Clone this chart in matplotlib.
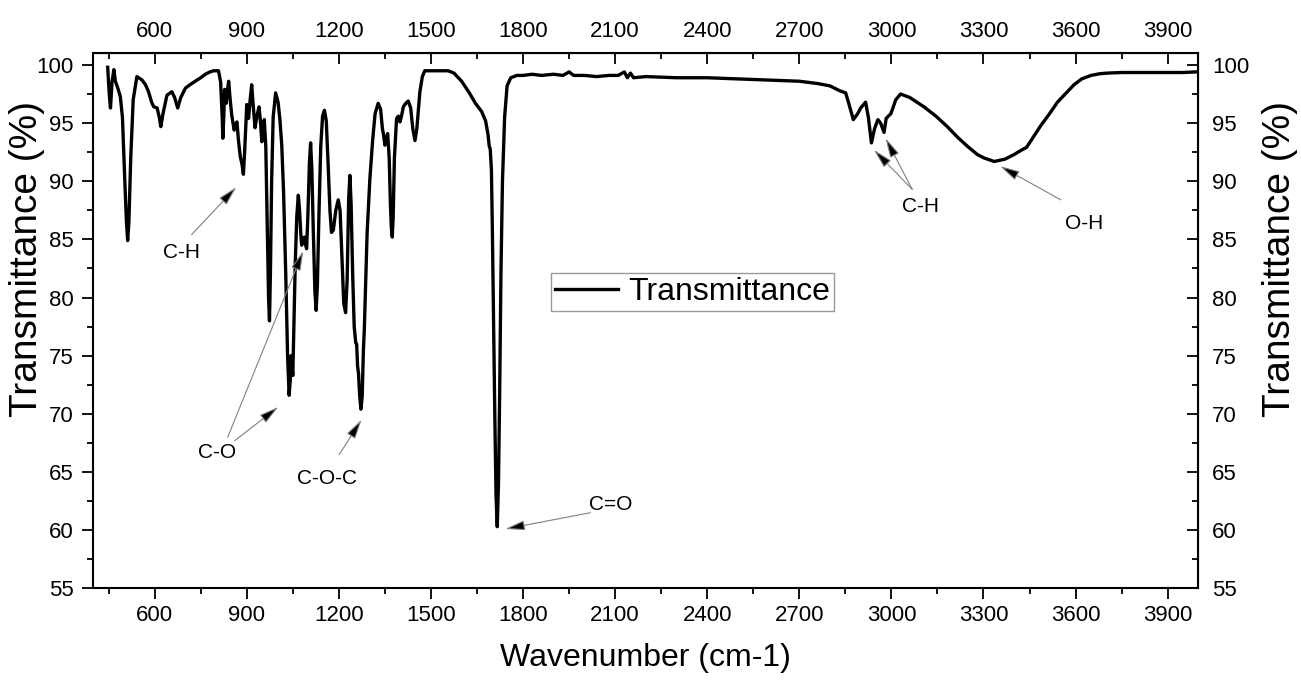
import numpy as np
import matplotlib
matplotlib.use('Agg')
import matplotlib.pyplot as plt
from matplotlib.ticker import MultipleLocator

plt.rcParams['font.family'] = ['Liberation Sans', 'DejaVu Sans']

# FTIR spectrum (wavenumber in cm-1, transmittance in %)
wavenumber = [
    447, 452, 456, 461, 467, 472, 480, 488, 495, 502, 508, 512, 516, 522, 530, 542,
    559, 570, 580, 590, 597, 608, 615, 620, 627, 640, 656, 665, 675, 685, 700, 715,
    732, 750, 765, 780, 792, 808, 815, 820, 822, 825, 828, 833, 837, 841, 846, 851,
    859, 864, 868, 873, 879, 885, 889, 893, 900, 906, 911, 916, 921, 927, 933, 940,
    945, 949, 953, 957, 962, 967, 971, 974, 977, 981, 986, 994, 1002, 1008, 1014, 1020,
    1027, 1033, 1038, 1042, 1044, 1047, 1050, 1054, 1058, 1063, 1068, 1072, 1076, 1079, 1084, 1088,
    1092, 1095, 1099, 1104, 1108, 1112, 1117, 1122, 1126, 1130, 1135, 1141, 1147, 1153, 1159, 1165,
    1171, 1176, 1182, 1190, 1198, 1204, 1210, 1216, 1222, 1227, 1232, 1236, 1240, 1245, 1250, 1255,
    1258, 1261, 1264, 1268, 1272, 1276, 1280, 1283, 1287, 1292, 1301, 1310, 1318, 1328, 1336, 1342,
    1345, 1350, 1354, 1359, 1364, 1368, 1371, 1374, 1377, 1381, 1388, 1394, 1399, 1404, 1410, 1418,
    1426, 1434, 1441, 1448, 1454, 1464, 1472, 1480, 1500, 1530, 1556, 1575, 1600, 1625, 1645, 1665,
    1678, 1686, 1690, 1693, 1697, 1700, 1704, 1708, 1712, 1716, 1720, 1724, 1728, 1733, 1740, 1748,
    1760, 1780, 1800, 1830, 1860, 1900, 1930, 1950, 1965, 2000, 2040, 2080, 2110, 2130, 2140, 2150,
    2160, 2200, 2300, 2400, 2500, 2600, 2700, 2760, 2800, 2830, 2851, 2860, 2876, 2890, 2900, 2916,
    2925, 2935, 2945, 2956, 2965, 2976, 2983, 2990, 2998, 3005, 3014, 3030, 3060, 3106, 3145, 3182,
    3215, 3248, 3280, 3302, 3335, 3370, 3400, 3425, 3440, 3450, 3487, 3515, 3541, 3570, 3595, 3620,
    3650, 3680, 3704, 3750, 3800, 3850, 3900, 3950, 3990,
]
transmittance = [
    99.8, 97.5, 96.3, 98.5, 99.6, 98.6, 98.0, 97.3, 95.5, 90.5, 86.5, 84.9, 86.5, 92.0, 97.0, 99.0,
    98.7, 98.3, 97.7, 96.8, 96.4, 96.3, 95.5, 94.7, 95.8, 97.4, 97.7, 97.2, 96.3, 97.2, 98.0, 98.3,
    98.6, 98.9, 99.2, 99.4, 99.5, 99.5, 98.5, 95.5, 93.7, 95.5, 97.9, 96.7, 97.8, 98.6, 97.0, 95.7,
    94.4, 94.9, 95.1, 93.5, 92.1, 91.4, 90.6, 92.5, 96.6, 95.4, 97.0, 98.3, 96.5, 94.6, 95.6, 96.4,
    95.0, 93.4, 94.5, 95.3, 93.0, 86.0, 80.0, 78.0, 82.0, 90.0, 95.5, 97.6, 96.8, 95.3, 93.1, 89.0,
    82.0, 75.0, 71.6, 73.0, 75.0, 74.2, 73.3, 78.0, 83.0, 87.0, 88.8, 87.5, 85.5, 84.5, 85.1, 85.2,
    84.5, 84.2, 87.0, 91.5, 93.3, 91.0, 85.5, 80.5, 78.9, 81.0, 87.0, 93.0, 95.6, 96.1, 95.2, 91.5,
    87.5, 85.6, 85.8, 87.5, 88.4, 87.5, 83.5, 79.5, 78.7, 81.5, 88.5, 90.5, 88.0, 82.0, 77.5, 76.1,
    76.0, 74.1, 73.5, 71.5, 70.4, 71.5, 75.5, 77.3, 81.0, 85.5, 90.2, 93.5, 95.8, 96.7, 96.2, 94.5,
    94.1, 93.1, 93.7, 94.1, 92.0, 88.0, 86.0, 85.2, 87.0, 92.0, 95.4, 95.6, 95.1, 95.6, 96.4, 96.7,
    96.9, 96.3, 94.5, 93.5, 94.5, 97.7, 99.0, 99.5, 99.5, 99.5, 99.5, 99.3, 98.6, 97.6, 96.7, 96.0,
    95.2, 94.0, 93.0, 92.8, 91.0, 86.0, 78.0, 70.0, 63.0, 60.3, 64.0, 72.0, 82.0, 90.0, 95.5, 98.2,
    98.9, 99.1, 99.1, 99.2, 99.1, 99.2, 99.1, 99.4, 99.1, 99.1, 99.0, 99.1, 99.1, 99.4, 98.9, 99.3,
    98.9, 99.0, 98.9, 98.9, 98.8, 98.7, 98.6, 98.4, 98.2, 97.8, 97.6, 96.8, 95.3, 95.8, 96.3, 96.8,
    95.5, 93.3, 94.5, 95.3, 95.0, 94.2, 95.4, 95.6, 95.8, 96.3, 97.0, 97.5, 97.2, 96.4, 95.6, 94.7,
    93.8, 93.0, 92.3, 92.0, 91.7, 91.9, 92.3, 92.7, 92.9, 93.3, 94.8, 95.8, 96.8, 97.6, 98.3, 98.8,
    99.1, 99.25, 99.3, 99.35, 99.35, 99.35, 99.35, 99.35, 99.4,
]

# peak labels: text, arrow tip (x, y), arrow tail (x, y), text position (x, y)
labels = ['C-H', 'C-O', 'C-O', 'C-O-C', 'C=O', 'C-H', 'C-H', 'O-H']
tips = [(866, 89.5), (1084, 84.0), (1003, 70.6), (1274, 69.5), (1742, 60.1),
        (2943, 92.7), (2981, 93.7), (3354, 91.3)]
tails = [(720, 85.4), (838, 68.0), (861, 67.7), (1201, 66.5), (2019, 61.5),
         (3068, 89.3), (3068, 89.3), (3552, 88.4)]
text_pos = [(687, 83.9), (802, 66.7), (802, 66.7), (1161, 64.4), (2084, 62.2),
            (3095, 87.8), (3095, 87.8), (3628, 86.4)]

fig = plt.figure(figsize=(13.01, 6.81), dpi=100)
ax = fig.add_axes([0.0717, 0.1361, 0.8494, 0.7856])

ax.plot(wavenumber, transmittance, color='black', lw=2.4, label='Transmittance')

ax.set_xlim(400, 4000)
ax.set_ylim(55, 101)
ax.xaxis.set_major_locator(MultipleLocator(300))
ax.xaxis.set_minor_locator(MultipleLocator(150))
ax.yaxis.set_major_locator(MultipleLocator(5))
ax.yaxis.set_minor_locator(MultipleLocator(2.5))
ax.tick_params(which='major', direction='out', length=8, width=1.3, labelsize=16)
ax.tick_params(axis='x', which='major', pad=4)
ax.tick_params(axis='y', which='major', pad=6)
ax.tick_params(which='minor', direction='out', length=4, width=1.3)
for s in ax.spines.values():
    s.set_linewidth(1.5)

ax.set_xlabel('Wavenumber (cm-1)', fontsize=23, labelpad=12)

# y labels on both sides (placed on the figure)
fig.text(0.021, 0.62, 'Transmittance (%)', fontsize=28, rotation=90,
         ha='center', va='center')
fig.text(0.984, 0.62, 'Transmittance (%)', fontsize=28, rotation=90,
         ha='center', va='center')

# top and right axes with inward ticks
top = ax.secondary_xaxis('top')
top.xaxis.set_major_locator(MultipleLocator(300))
top.xaxis.set_minor_locator(MultipleLocator(150))
top.tick_params(which='major', direction='in', length=8, width=1.3, labelsize=16, pad=8)
top.tick_params(which='minor', direction='in', length=4, width=1.3)

right = ax.secondary_yaxis('right')
right.yaxis.set_major_locator(MultipleLocator(5))
right.yaxis.set_minor_locator(MultipleLocator(2.5))
right.tick_params(which='major', direction='in', length=8, width=1.3, labelsize=16, pad=10)
right.tick_params(which='minor', direction='in', length=4, width=1.3)

for tip, tail in zip(tips, tails):
    ax.annotate('', xy=tip, xytext=tail,
                arrowprops=dict(arrowstyle='-|>,head_length=0.8,head_width=0.2',
                                mutation_scale=15, lw=0.8, ec='gray', fc='black',
                                shrinkA=0, shrinkB=0))
for lab, tp in set(zip(labels, text_pos)):
    ax.text(tp[0], tp[1], lab, fontsize=15, ha='center', va='center')

leg = ax.legend(loc='center', bbox_to_anchor=(0.542, 0.554), fontsize=23,
                fancybox=False, edgecolor='gray', handlelength=2.0,
                borderpad=0.12, handletextpad=0.3, borderaxespad=0)
leg.get_frame().set_linewidth(1.0)

fig.savefig('out.png', dpi=100)
